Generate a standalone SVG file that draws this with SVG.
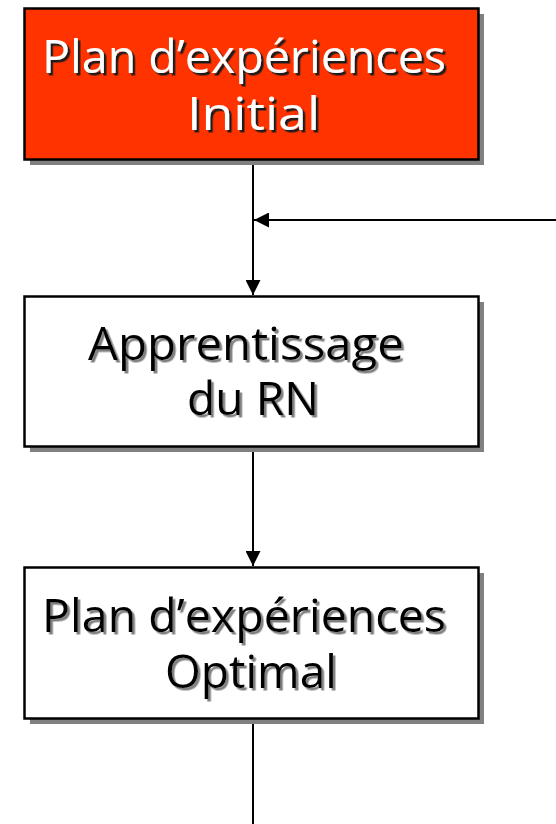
<svg xmlns="http://www.w3.org/2000/svg" width="556" height="824" viewBox="0 0 556 824">
<style>
.box{stroke:#000;stroke-width:2.5}
.shadow{fill:#808080}
.t{font-family:"Open Sans","Liberation Sans",sans-serif;font-size:46px}
.tw{fill:#fff;filter:url(#sd)}
.tb{fill:#000;filter:url(#sg)}
.conn{stroke:#000;stroke-width:2;fill:none}
</style>
<defs>
<filter id="sd" x="-5%" y="-20%" width="110%" height="140%">
<feDropShadow dx="2.5" dy="2.5" stdDeviation="0" flood-color="#1a1a1a" flood-opacity="1"/>
</filter>
<filter id="sg" x="-5%" y="-20%" width="110%" height="140%">
<feDropShadow dx="2.5" dy="2.5" stdDeviation="0" flood-color="#808080" flood-opacity="1"/>
</filter>
<marker id="ah" viewBox="0 0 15 15" refX="15" refY="7.5" markerWidth="15" markerHeight="15" markerUnits="userSpaceOnUse" orient="auto">
<path d="M0,0 L15,7.5 L0,15 z" fill="#000"/>
</marker>
</defs>
<g id="connectors">
<line class="conn" x1="253" y1="160" x2="253" y2="295" marker-end="url(#ah)"/>
<line class="conn" x1="556" y1="220" x2="254" y2="220" marker-end="url(#ah)"/>
<line class="conn" x1="253" y1="447" x2="253" y2="566" marker-end="url(#ah)"/>
<line class="conn" x1="253" y1="718" x2="253" y2="824"/>
</g>
<g id="node1">
<rect class="shadow" x="30" y="14" width="454" height="151"/>
<rect class="box" x="24.5" y="8.5" width="454" height="151" fill="#ff3300"/>
<text class="t tw" x="42" y="73" textLength="404" lengthAdjust="spacingAndGlyphs">Plan d’expériences</text>
<text class="t tw" x="187" y="130" textLength="133" lengthAdjust="spacingAndGlyphs">Initial</text>
</g>
<g id="node2">
<rect class="shadow" x="30" y="302" width="454" height="150"/>
<rect class="box" x="24.5" y="296.5" width="454" height="150" fill="#fff"/>
<text class="t tb" x="88" y="360" textLength="316" lengthAdjust="spacingAndGlyphs">Apprentissage</text>
<text class="t tb" x="187" y="415" textLength="132" lengthAdjust="spacingAndGlyphs">du RN</text>
</g>
<g id="node3">
<rect class="shadow" x="30" y="573" width="454" height="151"/>
<rect class="box" x="24.5" y="567.5" width="454" height="151" fill="#fff"/>
<text class="t tb" x="42" y="632" textLength="404" lengthAdjust="spacingAndGlyphs">Plan d’expériences</text>
<text class="t tb" x="165" y="688" textLength="172" lengthAdjust="spacingAndGlyphs">Optimal</text>
</g>
</svg>
